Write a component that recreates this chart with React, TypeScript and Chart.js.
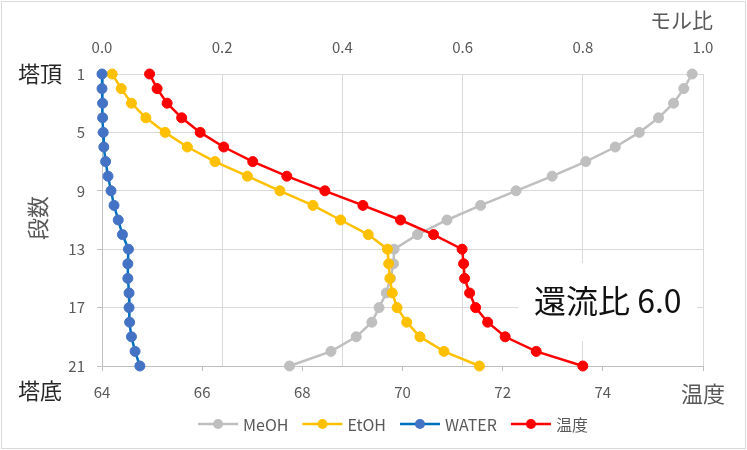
import React, { useEffect, useRef } from 'react';
import { Chart, registerables } from 'chart.js';

Chart.register(...registerables);

// ---- data ----
const stages = [1, 2, 3, 4, 5, 6, 7, 8, 9, 10, 11, 12, 13, 14, 15, 16, 17, 18, 19, 20, 21];
const meoh = [0.982, 0.968, 0.951, 0.926, 0.894, 0.854, 0.805, 0.749, 0.689, 0.630, 0.574, 0.525, 0.486, 0.485, 0.480, 0.473, 0.461, 0.449, 0.423, 0.381, 0.312];
const etoh = [0.017, 0.032, 0.049, 0.073, 0.105, 0.142, 0.188, 0.242, 0.296, 0.351, 0.397, 0.443, 0.475, 0.477, 0.479, 0.483, 0.491, 0.507, 0.529, 0.569, 0.628];
const water = [0.000, 0.000, 0.001, 0.001, 0.002, 0.003, 0.006, 0.010, 0.015, 0.020, 0.027, 0.034, 0.044, 0.043, 0.043, 0.045, 0.045, 0.046, 0.049, 0.055, 0.063];
const temperature = [64.95, 65.10, 65.30, 65.59, 65.96, 66.43, 67.01, 67.69, 68.45, 69.21, 69.96, 70.62, 71.19, 71.22, 71.24, 71.34, 71.46, 71.70, 72.05, 72.67, 73.60];

const seriesNames = ['MeOH', 'EtOH', 'WATER', '温度'];
const tempTickLabels = ['64', '66', '68', '70', '72', '74', '温度'];
const molTickLabels = ['0.0', '0.2', '0.4', '0.6', '0.8', '1.0'];
const topLabel = '塔頂';
const bottomLabel = '塔底';
const yTitle = '段数';
const molTitle = 'モル比';
const noteText = '還流比 6.0';

const FONT = "'Noto Sans CJK JP', 'Noto Sans', sans-serif";
const TICK_COLOR = '#595959';
const GRID = '#d9d9d9';
const AXIS = '#bfbfbf';

const lineColors = ['#BFBFBF', '#FFC000', '#0070C0', '#FF0000'];
const pointColors = ['#BFBFBF', '#FFC000', '#4472C4', '#FF0000'];

const toPoints = (vals: number[]) => vals.map((v, i) => ({ x: v, y: stages[i] }));

const overlayPlugin = {
  id: 'overlay',
  beforeDraw(chart: any) {
    const ctx = chart.ctx;
    ctx.save();
    ctx.fillStyle = '#ffffff';
    ctx.fillRect(0, 0, chart.width, chart.height);
    ctx.strokeStyle = '#d9d9d9';
    ctx.lineWidth = 1;
    ctx.strokeRect(1.5, 1.5, chart.width - 3, chart.height - 3);
    ctx.restore();
  },
  beforeDatasetsDraw(chart: any) {
    const ctx = chart.ctx;
    ctx.save();
    // text box covering gridlines
    ctx.fillStyle = '#ffffff';
    ctx.fillRect(518, 263, 179, 78);
    ctx.fillStyle = '#111111';
    ctx.font = `32px ${FONT}`;
    ctx.textAlign = 'left';
    ctx.textBaseline = 'middle';
    ctx.fillText(noteText, 534, 301);
    ctx.restore();
  },
  afterDraw(chart: any) {
    const ctx = chart.ctx;
    const area = chart.chartArea;
    ctx.save();
    // 塔頂 / 塔底
    ctx.fillStyle = '#262626';
    ctx.font = `22px ${FONT}`;
    ctx.textAlign = 'center';
    ctx.textBaseline = 'middle';
    ctx.fillText(topLabel, 40, area.top);
    ctx.fillText(bottomLabel, 40, area.bottom + 25);
    // y title rotated
    ctx.save();
    ctx.translate(38, 218);
    ctx.rotate(-Math.PI / 2);
    ctx.fillStyle = TICK_COLOR;
    ctx.font = `22px ${FONT}`;
    ctx.fillText(yTitle, 0, 0);
    ctx.restore();
    // mol title
    ctx.fillStyle = TICK_COLOR;
    ctx.font = `21px ${FONT}`;
    ctx.textAlign = 'right';
    ctx.fillText(molTitle, 713, 20);

    // legend
    ctx.font = `16px ${FONT}`;
    ctx.textAlign = 'left';
    const lineLen = 40;
    const gapText = 5;
    const gapItem = 14;
    const widths = seriesNames.map((n) => lineLen + gapText + ctx.measureText(n).width);
    const total = widths.reduce((a, b) => a + b, 0) + gapItem * (seriesNames.length - 1);
    let x = 393 - total / 2;
    const y = 424;
    seriesNames.forEach((name, i) => {
      ctx.strokeStyle = lineColors[i];
      ctx.lineWidth = 2.5;
      ctx.beginPath();
      ctx.moveTo(x, y);
      ctx.lineTo(x + lineLen, y);
      ctx.stroke();
      ctx.fillStyle = pointColors[i];
      ctx.beginPath();
      ctx.arc(x + lineLen / 2, y, 5, 0, Math.PI * 2);
      ctx.fill();
      ctx.fillStyle = TICK_COLOR;
      ctx.fillText(name, x + lineLen + gapText, y + 1);
      x += widths[i] + gapItem;
    });
    ctx.restore();
  },
};

export default function App() {
  const canvasRef = useRef<HTMLCanvasElement | null>(null);

  useEffect(() => {
    document.body.style.margin = '0';
    const canvas = canvasRef.current;
    if (!canvas) return;

    const mk = (i: number, vals: number[], xAxisID: string, order: number) => ({
      label: seriesNames[i],
      data: toPoints(vals),
      xAxisID,
      yAxisID: 'y',
      showLine: true,
      clip: false,
      borderColor: lineColors[i],
      backgroundColor: pointColors[i],
      pointBackgroundColor: pointColors[i],
      pointBorderColor: pointColors[i],
      borderWidth: 2.5,
      pointRadius: 5,
      pointBorderWidth: 1,
      pointHoverRadius: 5,
      order,
    });

    const chart = new Chart(canvas, {
      type: 'scatter',
      data: {
        datasets: [
          mk(0, meoh, 'x2', 4),
          mk(1, etoh, 'x2', 3),
          mk(2, water, 'x2', 2),
          mk(3, temperature, 'x', 1),
        ],
      },
      options: {
        responsive: false,
        animation: false,
        layout: { padding: { left: 0, right: 44, top: 0, bottom: 0 } },
        plugins: {
          legend: { display: false },
          tooltip: { enabled: false },
        },
        scales: {
          x2: {
            type: 'linear',
            position: 'top',
            min: 0,
            max: 1,
            ticks: {
              stepSize: 0.2,
              padding: 18,
              color: TICK_COLOR,
              font: { family: FONT, size: 15 },
              maxRotation: 0,
              callback: (_v: any, idx: number) => molTickLabels[idx],
            },
            grid: { color: GRID, lineWidth: 1, drawTicks: false },
            border: { display: false },
            afterFit: (s: any) => { s.height = 74; },
          },
          x: {
            type: 'linear',
            position: 'bottom',
            min: 64,
            max: 76,
            ticks: {
              stepSize: 2,
              padding: 12,
              maxRotation: 0,
              color: TICK_COLOR,
              font: (c: any) =>
                c.index === tempTickLabels.length - 1
                  ? { family: FONT, size: 22, lineHeight: 1 }
                  : { family: FONT, size: 15 },
              callback: (_v: any, idx: number) => tempTickLabels[idx],
            },
            grid: { drawOnChartArea: false, drawTicks: true, tickLength: 5, tickColor: AXIS, color: AXIS },
            border: { display: true, color: AXIS, width: 1 },
            afterFit: (s: any) => { s.height = 84; },
          },
          y: {
            type: 'linear',
            position: 'left',
            reverse: true,
            min: 1,
            max: 21,
            ticks: {
              stepSize: 4,
              padding: 12,
              color: TICK_COLOR,
              font: { family: FONT, size: 15 },
            },
            grid: { color: GRID, lineWidth: 1, drawTicks: true, tickLength: 5, tickColor: AXIS },
            border: { display: true, color: AXIS, width: 1 },
            afterFit: (s: any) => { s.width = 102; },
          },
        },
      },
      plugins: [overlayPlugin],
    } as any);

    return () => chart.destroy();
  }, []);

  return (
    <div style={{ width: 747, height: 450 }}>
      <canvas ref={canvasRef} width={747} height={450} style={{ display: 'block' }} />
    </div>
  );
}
